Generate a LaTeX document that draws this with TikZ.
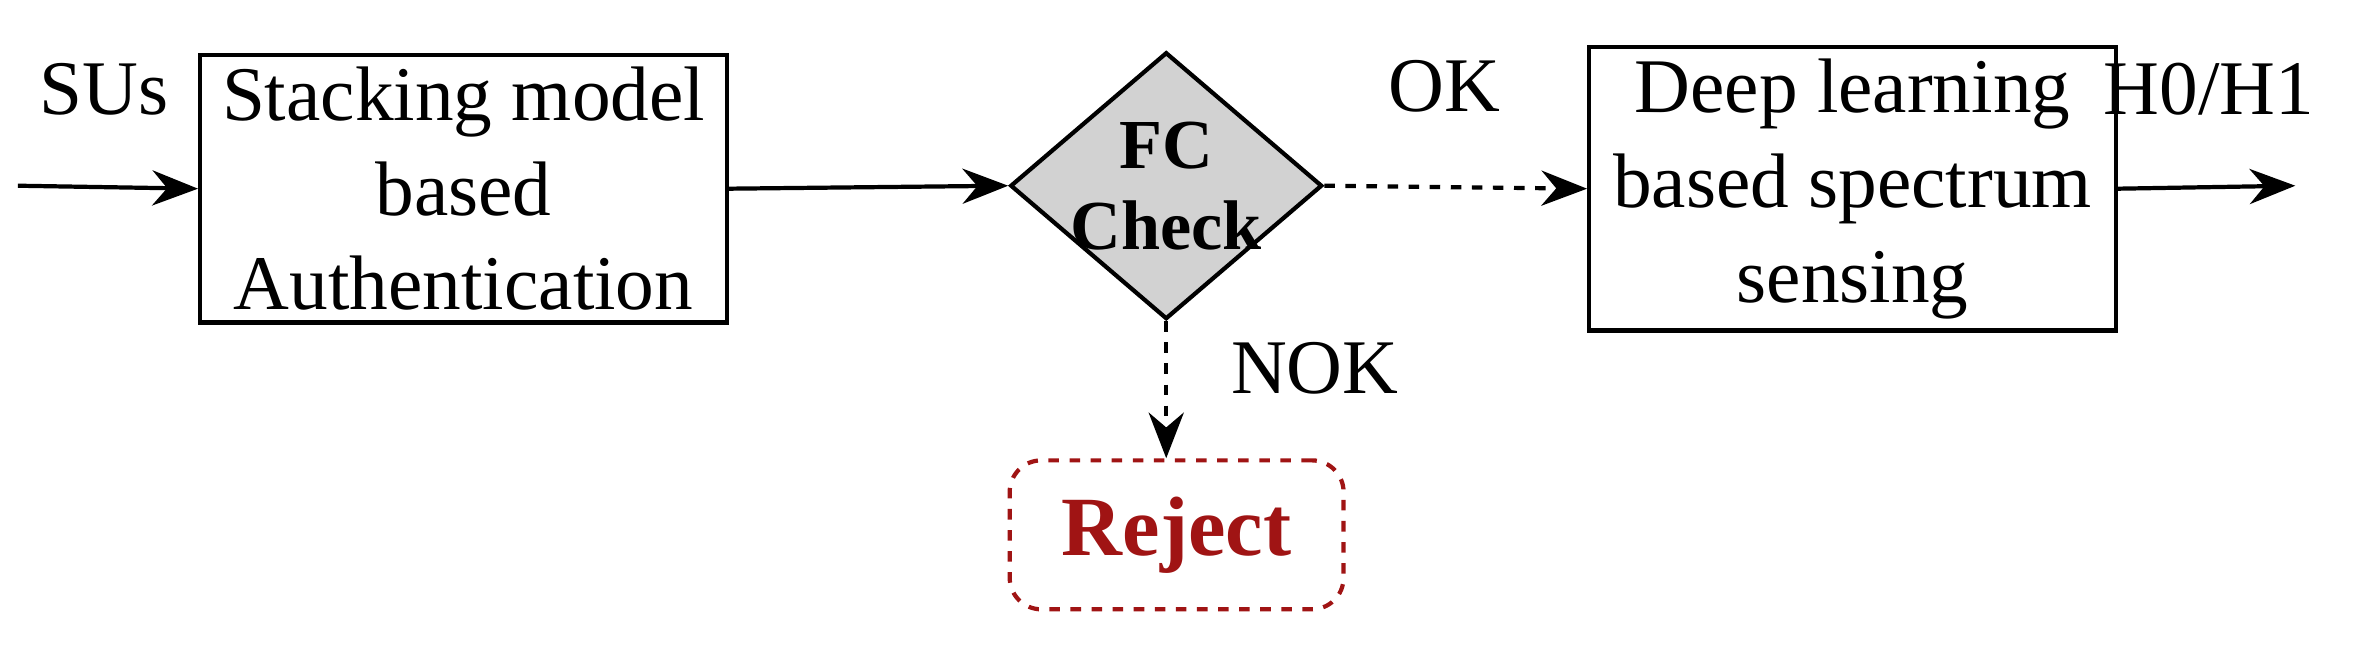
\documentclass[tikz,border=0pt]{standalone}
\usepackage{fontspec}
\setmainfont{Liberation Serif}
\usetikzlibrary{shapes.geometric,arrows.meta}
\definecolor{rej}{RGB}{160,20,20}
\begin{document}
\begin{tikzpicture}[x=0.01486cm,y=-0.01486cm,
  font=\fontsize{22}{27}\selectfont,
  box/.style={draw,line width=1.2pt,minimum width=5.27cm,minimum height=2.6cm,align=center},
  arr/.style={line width=1.2pt,-{Stealth[length=13pt,width=10pt]}},
  darr/.style={arr,dashed}]
\useasboundingbox (0,0) rectangle (1600,438);
\coordinate (s) at (12,125);
\coordinate (e) at (1545,125);
\node[box] (b1) at (312,127) {Stacking model\\based\\Authentication};
\node[draw,line width=1.2pt,fill=gray!35,diamond,minimum width=3.12cm,minimum height=2.67cm,inner sep=-4pt,aspect=1.17,font=\fontsize{20}{23}\selectfont\bfseries,align=center] (d) at (785,125) {FC\\Check};
\node[box] (b2) at (1247,127) {Deep learning\\based spectrum\\sensing};
\node[draw=rej,line width=1.2pt,dashed,rounded corners=9pt,minimum width=3.34cm,minimum height=1.49cm,text=rej,font=\fontsize{24}{28}\selectfont\bfseries] (r) at (792,360) {Reject};
\draw[arr] (s) -- (b1.west);
\draw[arr] (b1.east) -- (d.west);
\draw[darr] (d.east) -- (b2.west);
\draw[arr] (b2.east) -- (e);
\draw[darr] (d.south) -- (d.south|-r.north);
\node (su) at (70,60) {SUs};
\node (ok) at (972,58) {OK};
\node (h) at (1487,60) {H0/H1};
\node (nok) at (885,248) {NOK};
\end{tikzpicture}
\end{document}
